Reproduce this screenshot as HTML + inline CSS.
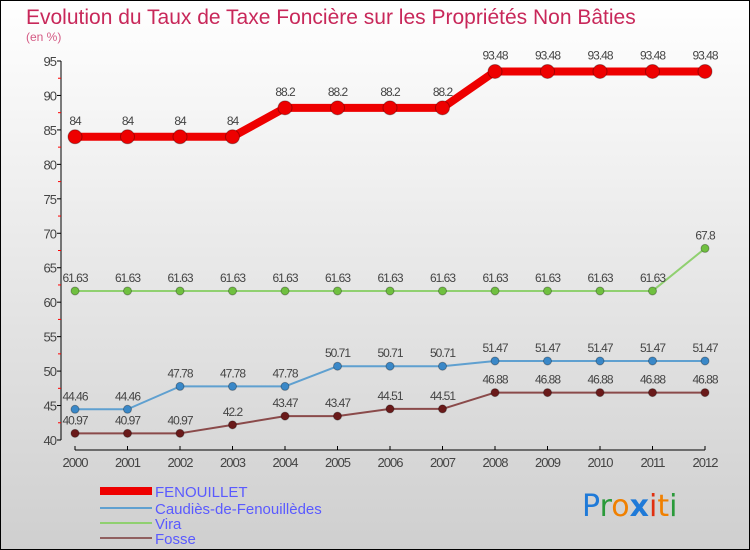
<!DOCTYPE html>
<html><head><meta charset="utf-8"><style>
body{margin:0}
#c{width:750px;height:550px;position:relative;overflow:hidden;font-family:"Liberation Sans",sans-serif}
</style></head><body>
<div id="c">
<svg id="s" width="750" height="550" xmlns="http://www.w3.org/2000/svg">
<defs><linearGradient id="bg" x1="0" y1="0" x2="0" y2="1"><stop offset="0" stop-color="#ffffff"/><stop offset="1" stop-color="#cfcfcf"/></linearGradient></defs>
<rect x="0.5" y="0.5" width="749" height="549" fill="url(#bg)" stroke="#000"/>
<text x="26" y="24" font-size="21" fill="#c8285a">Evolution du Taux de Taxe Foncière sur les Propriétés Non Bâties</text>
<text x="26" y="41" font-size="12" fill="#d45a84">(en %)</text>
<g id="axes"></g><g id="series"></g>
<g>
<rect x="100" y="487" width="52" height="8" fill="#e00"/>
<text x="155" y="497" font-size="15" fill="#5a5aff">FENOUILLET</text>
<line x1="100" y1="508" x2="152" y2="508" stroke="#5fa0d0" stroke-width="2"/>
<text x="155" y="514" font-size="15" fill="#5a5aff">Caudiès-de-Fenouillèdes</text>
<line x1="100" y1="523" x2="152" y2="523" stroke="#90d070" stroke-width="2"/>
<text x="155" y="529" font-size="15" fill="#5a5aff">Vira</text>
<line x1="100" y1="538" x2="152" y2="538" stroke="#906060" stroke-width="2"/>
<text x="155" y="544" font-size="15" fill="#5a5aff">Fosse</text>
</g>
<g font-size="30" font-family="'DejaVu Sans',sans-serif">
<text x="582" y="516"><tspan fill="#1f7ad8">P</tspan><tspan fill="#2a9a3a">r</tspan><tspan fill="#f08000">o</tspan><tspan fill="#1f7ad8" font-weight="bold">x</tspan><tspan fill="#e03010">i</tspan><tspan fill="#f08000">t</tspan><tspan fill="#2a9a3a">i</tspan></text>
</g>
</svg></div>
<script>
const years=[2000,2001,2002,2003,2004,2005,2006,2007,2008,2009,2010,2011,2012];
const yTicks=[40,45,50,55,60,65,70,75,80,85,90,95];
const fenouillet=[84,84,84,84,88.2,88.2,88.2,88.2,93.48,93.48,93.48,93.48,93.48];
const caudies=[44.46,44.46,47.78,47.78,47.78,50.71,50.71,50.71,51.47,51.47,51.47,51.47,51.47];
const vira=[61.63,61.63,61.63,61.63,61.63,61.63,61.63,61.63,61.63,61.63,61.63,61.63,67.8];
const fosse=[40.97,40.97,40.97,42.2,43.47,43.47,44.51,44.51,46.88,46.88,46.88,46.88,46.88];
const NS="http://www.w3.org/2000/svg";
const X=i=>75+i*(630/(years.length-1));
const Y=v=>440-(v-40)*(379/55);
function mk(t,a,p){const e=document.createElementNS(NS,t);for(const k in a)e.setAttribute(k,a[k]);p.appendChild(e);return e;}
const ax=document.getElementById('axes');
mk('line',{x1:61,y1:Y(95),x2:61,y2:Y(40),stroke:'#000'},ax);
yTicks.forEach(v=>{mk('line',{x1:57,y1:Y(v),x2:61,y2:Y(v),stroke:'#000'},ax);
 if(v<95)mk('line',{x1:58,y1:Y(v+2.5),x2:61,y2:Y(v+2.5),stroke:'#f00'},ax);
 const t=mk('text',{x:56,y:Y(v)+5,'font-size':13,fill:'#444','text-anchor':'end','letter-spacing':'-1'},ax);t.textContent=v;
 
 });
mk('line',{x1:X(0),y1:450,x2:X(12),y2:450,stroke:'#000'},ax);
years.forEach((y,i)=>{mk('line',{x1:X(i),y1:446,x2:X(i),y2:450,stroke:'#000'},ax);
 const t=mk('text',{x:X(i),y:467,'font-size':13,fill:'#444','text-anchor':'middle','letter-spacing':'-1'},ax);t.textContent=y;
 
 });
const sg=document.getElementById('series');
function draw(vals,name,col,w,r,dot,off){
 const g=mk('g',{},sg);
 
 
 mk('polyline',{points:vals.map((v,i)=>X(i)+','+Y(v)).join(' '),fill:'none',stroke:col,'stroke-width':w,'stroke-linejoin':'round'},g);
 vals.forEach((v,i)=>{const c=mk('circle',{cx:X(i),cy:Y(v),r:r,fill:dot,stroke:'rgba(0,0,0,0.3)','stroke-width':1},g);
  
  
  const t=mk('text',{x:X(i),y:Y(v)-off,'font-size':12,fill:'#444','text-anchor':'middle','letter-spacing':'-1'},g);t.textContent=v;
  
  });
}
draw(vira,'vira','#90d070',2,4,'#70c040',9);
draw(caudies,'caudies','#5fa0d0',2,4,'#3a88c8',9);
draw(fosse,'fosse','#8a4a4a',2,4,'#6a1a1a',9);
draw(fenouillet,'fenouillet','#e00',8,7,'#e00',12);
</script>
</body></html>
